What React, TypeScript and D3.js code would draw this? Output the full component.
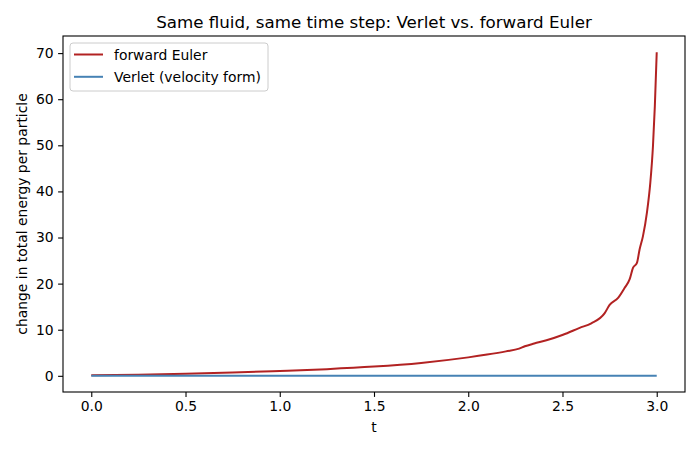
import * as d3 from "d3";
import { useEffect, useRef } from "react";

// values
const tEuler = [0, 0.25, 0.5, 0.75, 1.0, 1.25, 1.5, 1.75, 2.0, 2.1, 2.2, 2.27, 2.3, 2.35, 2.415, 2.503, 2.591, 2.653, 2.724, 2.75, 2.795, 2.83, 2.856, 2.874, 2.895, 2.909, 2.927, 2.948, 2.966, 2.98, 2.99, 3.0];
const eEuler = [0.12, 0.25, 0.45, 0.7, 1.05, 1.45, 2.0, 2.8, 4.0, 4.6, 5.3, 5.9, 6.4, 7.0, 7.7, 8.9, 10.4, 11.4, 13.6, 15.4, 16.9, 19.1, 20.9, 23.4, 24.5, 27.4, 30.3, 35.4, 41.9, 49.8, 58.5, 70.2];
const tVerlet = [0, 0.5, 1.0, 1.5, 2.0, 2.5, 3.0];
const eVerlet = [0, 0, 0, 0, 0, 0, 0];
const xTicks = [0, 0.5, 1.0, 1.5, 2.0, 2.5, 3.0];
const yTicks = [0, 10, 20, 30, 40, 50, 60, 70];
const seriesNames = ["forward Euler", "Verlet (velocity form)"];
const seriesColors = ["#b22222", "#4682b4"];

const W = 700;
const H = 450;
const margin = { left: 63, right: 15, top: 36, bottom: 58 };

const App = () => {
    const svgRef = useRef<SVGSVGElement | null>(null);

    useEffect(() => {
        const svg = d3.select(svgRef.current);
        svg.selectAll("*").remove();
        const font = "DejaVu Sans, sans-serif";

        const x = d3.scaleLinear().domain([-0.15, 3.15]).range([margin.left, W - margin.right]);
        const y = d3.scaleLinear().domain([-3.51, 73.71]).range([H - margin.bottom, margin.top]);

        svg.append("rect").attr("width", W).attr("height", H).attr("fill", "white");

        // lines
        const line = d3.line<[number, number]>().x((d) => x(d[0])).y((d) => y(d[1])).curve(d3.curveMonotoneX);
        const series: [number, number][][] = [
            tEuler.map((t, i) => [t, eEuler[i]]),
            tVerlet.map((t, i) => [t, eVerlet[i]]),
        ];
        series.forEach((s, i) => {
            svg.append("path")
                .datum(s)
                .attr("d", line)
                .attr("fill", "none")
                .attr("stroke", seriesColors[i])
                .attr("stroke-width", 2)
                .attr("stroke-linejoin", "round");
        });

        // axes
        const xAxis = svg.append("g")
            .attr("transform", `translate(0,${H - margin.bottom})`)
            .call(d3.axisBottom(x).tickValues(xTicks).tickFormat(d3.format(".1f")).tickSizeOuter(0).tickSize(4.9).tickPadding(4.5));
        const yAxis = svg.append("g")
            .attr("transform", `translate(${margin.left},0)`)
            .call(d3.axisLeft(y).tickValues(yTicks).tickFormat(d3.format("d")).tickSizeOuter(0).tickSize(4.9).tickPadding(4.5));
        [xAxis, yAxis].forEach((a) => {
            a.select(".domain").remove();
            a.selectAll("line").attr("stroke", "black").attr("stroke-width", 1.1);
            a.selectAll("text").attr("font-family", font).attr("font-size", 13.9).attr("fill", "black");
        });

        // frame
        svg.append("rect")
            .attr("x", margin.left)
            .attr("y", margin.top)
            .attr("width", W - margin.left - margin.right)
            .attr("height", H - margin.top - margin.bottom)
            .attr("fill", "none")
            .attr("stroke", "black")
            .attr("stroke-width", 1.1);

        // labels
        svg.append("text")
            .attr("x", (margin.left + W - margin.right) / 2)
            .attr("y", 28)
            .attr("text-anchor", "middle")
            .attr("font-family", font)
            .attr("font-size", 16.7)
            .text("Same fluid, same time step: Verlet vs. forward Euler");
        svg.append("text")
            .attr("x", (margin.left + W - margin.right) / 2)
            .attr("y", 432)
            .attr("text-anchor", "middle")
            .attr("font-family", font)
            .attr("font-size", 13.9)
            .text("t");
        svg.append("text")
            .attr("transform", `translate(27,${(margin.top + H - margin.bottom) / 2}) rotate(-90)`)
            .attr("text-anchor", "middle")
            .attr("font-family", font)
            .attr("font-size", 13.9)
            .text("change in total energy per particle");

        // legend
        const lg = svg.append("g").attr("transform", `translate(${margin.left + 7},${margin.top + 7})`);
        lg.append("rect")
            .attr("width", 198)
            .attr("height", 48)
            .attr("rx", 3)
            .attr("fill", "white")
            .attr("fill-opacity", 0.8)
            .attr("stroke", "#cccccc");
        seriesNames.forEach((name, i) => {
            const yy = 11.5 + i * 22.3;
            lg.append("line")
                .attr("x1", 4).attr("x2", 33)
                .attr("y1", yy).attr("y2", yy)
                .attr("stroke", seriesColors[i])
                .attr("stroke-width", 2);
            lg.append("text")
                .attr("x", 44)
                .attr("y", yy + 5)
                .attr("font-family", font)
                .attr("font-size", 13.9)
                .text(name);
        });
    }, []);

    return (
        <svg ref={svgRef} width={W} height={H} style={{ position: "absolute", left: 0, top: 0 }}></svg>
    );
};

export default App;
